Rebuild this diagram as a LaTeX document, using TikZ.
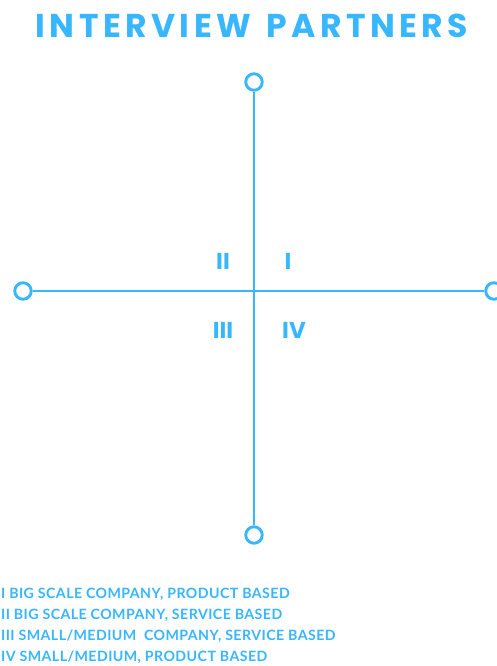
\documentclass[tikz,border=0pt]{standalone}
\usepackage{fontspec}
\setmainfont{Poppins}
\newfontfamily\titlefont[LetterSpace=13.5]{Poppins}
\newfontfamily\legendfont[LetterSpace=3]{Lato}
\definecolor{sky}{HTML}{38B6FF}
\begin{document}
\begin{tikzpicture}[x=1pt,y=-1pt,
  axis/.style={draw=sky,line width=2.9pt},
  endring/.style={circle,draw=sky,line width=2.9pt,fill=white,minimum size=16.5pt,inner sep=0pt},
  quad/.style={text=sky,font=\bfseries\fontsize{23}{23}\selectfont,inner sep=0pt},
  legend/.style={text=sky,font=\legendfont\bfseries\fontsize{14.2}{14.2}\selectfont,anchor=west,inner sep=0pt}]
\useasboundingbox (0,0) rectangle (496,666);
\node[text=sky,font=\titlefont\bfseries\fontsize{33}{33}\selectfont,inner sep=0pt] (title) at (252,26) {INTERVIEW\hspace{4pt} PARTNERS};
\node[endring] (top) at (254,82) {};
\node[endring] (bottom) at (254,535) {};
\node[endring] (left) at (23,291) {};
\node[endring] (right) at (494,291) {};
\draw[axis] (top) -- (bottom);
\draw[axis] (left) -- (right);
\node[quad] (q2) at (223,261) {II};
\node[quad] (q1) at (288,261) {I};
\node[quad] (q3) at (223,330) {III};
\node[quad] (q4) at (294,330) {IV};
\node[legend] (l1) at (1,594) {I BIG SCALE COMPANY, PRODUCT BASED};
\node[legend] (l2) at (1,615) {II BIG SCALE COMPANY, SERVICE BASED};
\node[legend] (l3) at (1,636) {III SMALL/MEDIUM\ \ COMPANY, SERVICE BASED};
\node[legend] (l4) at (1,657) {IV SMALL/MEDIUM, PRODUCT BASED};
\end{tikzpicture}
\end{document}
